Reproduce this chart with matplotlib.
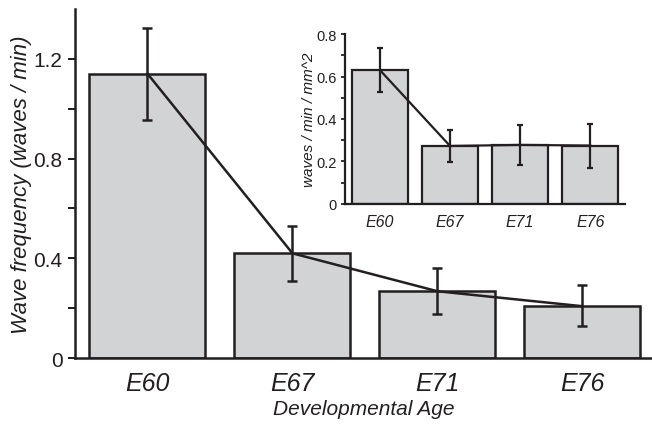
import numpy as np
import matplotlib.pyplot as plt
import matplotlib as mpl

mpl.rcParams["font.family"] = ["Liberation Sans", "DejaVu Sans"]
mpl.rcParams["axes.unicode_minus"] = False

INK = "#231f20"
FILL = "#d1d3d4"

ages = ["E60", "E67", "E71", "E76"]

# main panel: wave frequency (waves / min)
freq = [1.14, 0.42, 0.268, 0.208]
freq_lo = [0.955, 0.308, 0.176, 0.128]
freq_hi = [1.325, 0.530, 0.360, 0.292]

# inset: waves / min / mm^2
dens = [0.63, 0.273, 0.278, 0.275]
dens_lo = [0.527, 0.198, 0.184, 0.169]
dens_hi = [0.734, 0.348, 0.372, 0.376]


def draw_bars(ax, vals, lo, hi, lw, cap):
    x = np.arange(len(vals))
    vals = np.array(vals)
    yerr = [vals - np.array(lo), np.array(hi) - vals]
    ax.bar(x, vals, width=0.8, color=FILL, edgecolor=INK, linewidth=lw, zorder=2)
    ax.errorbar(x, vals, yerr=yerr, fmt="none", ecolor=INK, elinewidth=lw,
                capsize=cap, capthick=lw, zorder=3)
    ax.plot(x, vals, color=INK, linewidth=lw, zorder=3)
    for s in ["top", "right"]:
        ax.spines[s].set_visible(False)
    for s in ["left", "bottom"]:
        ax.spines[s].set_color(INK)
        ax.spines[s].set_linewidth(lw)
        ax.spines[s].set_zorder(4)
    ax.set_xticks(x)
    ax.set_xticklabels(ages)
    ax.tick_params(axis="x", length=0, colors=INK)
    ax.tick_params(axis="y", which="both", direction="out", colors=INK, width=lw * 0.8)
    ax.set_xlim(-0.5, 3.5)


fig = plt.figure(figsize=(6.52, 4.27), dpi=100)

ax = fig.add_axes([0.115, 0.159, 0.885, 0.818])
draw_bars(ax, freq, freq_lo, freq_hi, lw=1.8, cap=3.5)
ax.set_xlim(-0.5, 3.48)
ax.set_ylim(0, 1.4)
ax.set_yticks([0, 0.4, 0.8, 1.2])
ax.set_yticklabels(["0", "0.4", "0.8", "1.2"])
ax.set_yticks([0.2, 0.6, 1.0], minor=True)
ax.tick_params(axis="y", which="both", length=5, labelsize=15, pad=4)
ax.tick_params(axis="x", labelsize=18, pad=9)
for t in ax.get_xticklabels():
    t.set_fontstyle("italic")
ax.set_ylabel("Wave frequency (waves / min)", fontsize=16, style="italic",
              color=INK, labelpad=1)
ax.set_xlabel("Developmental Age", fontsize=15, style="italic", color=INK, labelpad=3)

ins = fig.add_axes([0.529, 0.52, 0.43, 0.398])
draw_bars(ins, dens, dens_lo, dens_hi, lw=1.6, cap=2.5)
ins.set_ylim(0, 0.8)
ins.set_yticks([0, 0.2, 0.4, 0.6, 0.8])
ins.set_yticklabels(["0", "0.2", "0.4", "0.6", "0.8"])
ins.set_yticks([0.1, 0.3, 0.5, 0.7], minor=True)
ins.tick_params(axis="y", which="both", length=3, labelsize=10.5, pad=3)
ins.tick_params(axis="x", labelsize=11.5, pad=7)
for t in ins.get_xticklabels():
    t.set_fontstyle("italic")
ins.set_ylabel("waves / min / mm^2", fontsize=11, style="italic", color=INK, labelpad=0)
ins.patch.set_alpha(0)

fig.savefig("out.png", dpi=100)
